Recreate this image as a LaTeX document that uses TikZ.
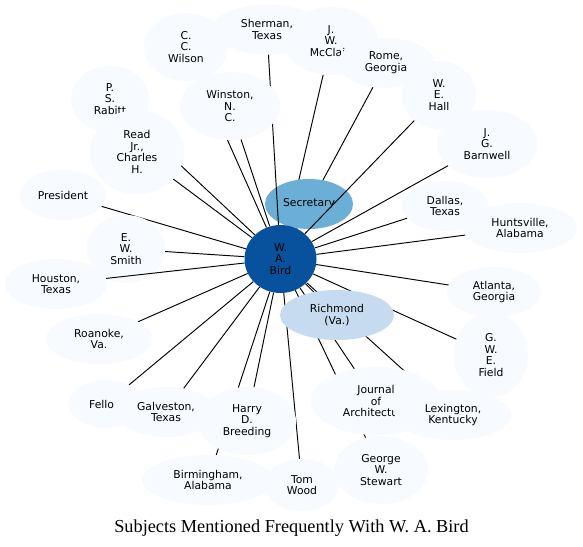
\documentclass[tikz,border=0pt]{standalone}
\usepackage{fontspec}
\setmainfont{Liberation Serif}
\newfontfamily\dv{DejaVu Sans}
\usetikzlibrary{shapes.geometric}
\pgfdeclarelayer{edgelayer}
\pgfdeclarelayer{seclayer}
\pgfdeclarelayer{overlayer}
\pgfsetlayers{edgelayer,seclayer,overlayer,main}
\definecolor{cdark}{HTML}{08519C}
\definecolor{cmid}{HTML}{6BAED6}
\definecolor{clight}{HTML}{C6DBEF}
\definecolor{cpale}{HTML}{F7FBFF}
\tikzset{
  ent/.style n args={2}{ellipse, draw=none, fill=cpale, inner sep=0pt,
    minimum width=#1pt, minimum height=#2pt, align=center,
    font=\dv\fontsize{10.8}{11.7}\selectfont},
  edge/.style={draw=black, line width=0.95pt}
}
\begin{document}
\begin{tikzpicture}[x=1pt,y=-1pt]
\useasboundingbox (0,0) rectangle (583,546);
\begin{pgfonlayer}{edgelayer}
\fill[white] (0,0) rectangle (583,546);
\end{pgfonlayer}
% center
\node[ent={72}{68}, fill=cdark] (bird) at (280.5,259) {W.\\A.\\Bird};
\begin{pgfonlayer}{seclayer}
\node[ent={88}{50}, fill=cmid] (sec) at (309,204) {Secretary};
\node[ent={78}{68}] (smith) at (126,249) {E.\\W.\\Smith};
\end{pgfonlayer}
\node[ent={114}{50}, fill=clight] (rich) at (337,315) {Richmond\\(Va.)};
% outer nodes
\node[ent={86}{50}] (dallas) at (445,206) {Dallas,\\Texas};
\node[ent={114}{50}] (hunts) at (520,228) {Huntsville,\\Alabama};
\node[ent={94}{50}] (atl) at (494,292) {Atlanta,\\Georgia};
\node[ent={74}{84}] (field) at (491,355) {G.\\W.\\E.\\Field};
\node[ent={130}{68}] (journal) at (376,401) {Journal\\of\\\rlap{Architectu}\phantom{Architecture}};
\node[ent={116}{50}] (lex) at (453,415) {Lexington,\\Kentucky};
\node[ent={94}{68}] (george) at (381,470) {George\\W.\\Stewart};
\node[ent={74}{52}] (tom) at (302,485) {Tom\\Wood};
\node[ent={132}{50}] (birm) at (208,480) {Birmingham,\\Alabama};
\node[ent={98}{68}] (harry) at (247,421) {Harry\\D.\\Breeding};
\node[ent={74}{48}] (fellow) at (106,404) {\rlap{Fello}\phantom{Fellow}};
\node[ent={100}{50}] (galv) at (166,412) {Galveston,\\Texas};
\node[ent={106}{50}] (roan) at (99,339) {Roanoke,\\Va.};
\node[ent={102}{50}] (hou) at (56,284) {Houston,\\Texas};
\node[ent={86}{50}] (pres) at (63,195) {President};
\node[ent={78}{66}] (rabitt) at (110,99) {P.\\S.\\Rabitt};
\node[ent={94}{84}] (read) at (137,152) {Read\\Jr.,\\Charles\\H.};
\node[ent={84}{68}] (wilson) at (186,47) {C.\\C.\\Wilson};
\node[ent={100}{68}] (winston) at (230,106) {Winston,\\N.\\C.};
\node[ent={94}{68}] (mcclain) at (331,41) {J.\\W.\\\rlap{McClai}\phantom{McClain}};
\node[ent={110}{50}] (sherman) at (267,29.5) {Sherman,\\Texas};
\node[ent={96}{50}] (rome) at (386,63) {Rome,\\Georgia};
\node[ent={74}{68}] (hall) at (439,95) {W.\\E.\\Hall};
\node[ent={100}{68}] (barnwell) at (487,144) {J.\\G.\\Barnwell};
% edges under nodes
\begin{pgfonlayer}{edgelayer}
\foreach \t in {sec,rich,dallas,hunts,atl,field,journal,lex,george,tom,birm,harry,fellow,galv,roan,smith,pres,rabitt,read,wilson,winston,mcclain,rome,barnwell}
  \draw[edge] (bird) -- (\t);
\end{pgfonlayer}
% edges drawn over Secretary and E. W. Smith
\begin{pgfonlayer}{overlayer}
\draw[edge] (bird) -- (sherman);
\draw[edge] (bird) -- (hall);
\draw[edge] (bird) -- (hou);
\end{pgfonlayer}
% title
\node[anchor=base, font=\fontsize{18.3}{20}\selectfont, inner sep=0pt] (title) at (291.5,532) {Subjects Mentioned Frequently With W. A. Bird};
\end{tikzpicture}
\end{document}
